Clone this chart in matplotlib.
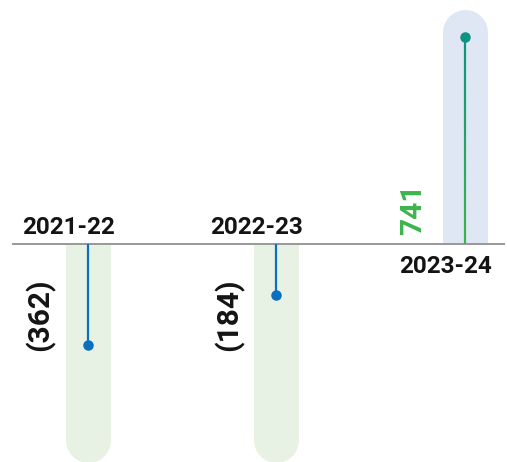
import numpy as np
import matplotlib
matplotlib.use("Agg")
import matplotlib.pyplot as plt
from matplotlib.collections import LineCollection
from matplotlib.patches import Rectangle
from matplotlib.colors import LinearSegmentedColormap

plt.rcParams['font.family'] = ['Roboto', 'DejaVu Sans']

# Data
years = ["2021-22", "2022-23", "2023-24"]
values = [-362, -184, 741]
value_labels = ["(362)", "(184)", "741"]

# Figure geometry
DPI = 100
PX = 72 / DPI  # points per pixel
fig = plt.figure(figsize=(5.07, 4.62), dpi=DPI)
ax = fig.add_axes([0, 0, 1, 1])
ax.set_xlim(-0.4636, 2.2225)
ax.set_ylim(-780, 873)
ax.axis('off')

# Styling
TRACK_TOP, TRACK_BOTTOM = 757, -700
track_pos_color = "#dfe6f4"
track_neg_color = "#e7f1e4"
neg_color = "#0a6fbd"
pos_dot_color = "#0c9381"
pos_label_color = "#3db44d"
base_color = "#9a9a9a"
text_color = "#141414"
grad = LinearSegmentedColormap.from_list("stem", ["#3db44d", "#0c9381"])

for i, (yr, v, lab) in enumerate(zip(years, values, value_labels)):
    positive = v >= 0
    end = TRACK_TOP if positive else TRACK_BOTTOM
    track, = ax.plot([i, i], [0, end], lw=45 * PX, solid_capstyle='round',
                     color=track_pos_color if positive else track_neg_color, zorder=1)
    clip = Rectangle((i - 0.5, 0 if positive else -5000), 1, 5000,
                     transform=ax.transData)
    track.set_clip_path(clip)

    if positive:
        ys = np.linspace(0, v, 120)
        segs = [[(i, ys[k]), (i, ys[k + 1])] for k in range(len(ys) - 1)]
        lc = LineCollection(segs, colors=grad(np.linspace(0, 1, len(segs))),
                            linewidths=2.2 * PX, zorder=3, capstyle='butt')
        ax.add_collection(lc)
        ax.plot([i], [v], 'o', ms=10.5 * PX, color=pos_dot_color, mec='none', zorder=4)
        ax.annotate(yr, (i, 0), xytext=(-20 * PX, -29 * PX), textcoords='offset points',
                    ha='center', va='baseline', fontsize=17.5, fontweight='bold',
                    color=text_color)
        ax.annotate(lab, (i, 0), xytext=(-51.5 * PX, 9 * PX), textcoords='offset points',
                    ha='center', va='bottom', rotation=90, fontsize=21.5,
                    fontweight='bold', color=pos_label_color)
    else:
        ax.plot([i, i], [0, v], lw=2.2 * PX, color=neg_color, zorder=3,
                solid_capstyle='butt')
        ax.plot([i], [v], 'o', ms=10.5 * PX, color=neg_color, mec='none', zorder=4)
        ax.annotate(yr, (i, 0), xytext=(-19.5 * PX, 10 * PX), textcoords='offset points',
                    ha='center', va='baseline', fontsize=17.5, fontweight='bold',
                    color=text_color)
        ax.annotate(lab, (i, 0), xytext=(-47 * PX, -35 * PX), textcoords='offset points',
                    ha='center', va='top', rotation=90, fontsize=21.5,
                    fontweight='bold', color=text_color)

# Zero line
ax.plot([-0.4, 2.212], [0, 0], lw=2 * PX, color=base_color, zorder=2,
        solid_capstyle='butt')

fig.savefig("out.png", dpi=DPI)
